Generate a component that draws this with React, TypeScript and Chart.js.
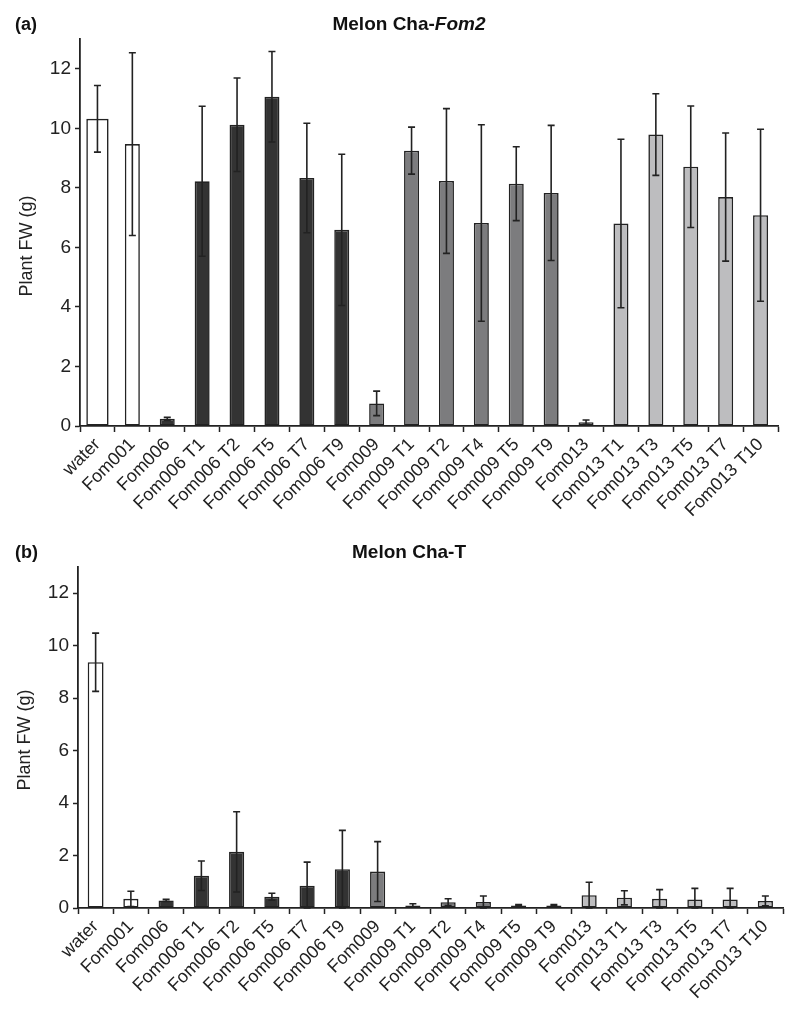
import React, { useEffect, useRef } from 'react';
import { Chart, registerables } from 'chart.js';

Chart.register(...registerables);

// ---------- data ----------
const categories = [
  'water', 'Fom001', 'Fom006', 'Fom006 T1', 'Fom006 T2', 'Fom006 T5', 'Fom006 T7', 'Fom006 T9',
  'Fom009', 'Fom009 T1', 'Fom009 T2', 'Fom009 T4', 'Fom009 T5', 'Fom009 T9',
  'Fom013', 'Fom013 T1', 'Fom013 T3', 'Fom013 T5', 'Fom013 T7', 'Fom013 T10',
];
const groupOf = [0, 0, 1, 1, 1, 1, 1, 1, 2, 2, 2, 2, 2, 2, 3, 3, 3, 3, 3, 3];
const groupColors = ['#ffffff', '#333333', '#7c7c7e', '#bdbdbf'];

const fom2Means = [10.32, 9.47, 0.24, 8.22, 10.12, 11.06, 8.33, 6.59, 0.76, 9.25, 8.23, 6.82, 8.14, 7.83, 0.13, 6.8, 9.79, 8.71, 7.69, 7.08];
const fom2Errors = [1.12, 3.07, 0.05, 2.52, 1.57, 1.52, 1.84, 2.54, 0.41, 0.79, 2.43, 3.3, 1.24, 2.27, 0.07, 2.83, 1.37, 2.04, 2.15, 2.89];

const chaTMeans = [9.37, 0.35, 0.29, 1.23, 2.14, 0.43, 0.85, 1.48, 1.39, 0.1, 0.22, 0.23, 0.1, 0.1, 0.49, 0.39, 0.35, 0.32, 0.32, 0.27];
const chaTErrors = [1.11, 0.29, 0.04, 0.56, 1.53, 0.13, 0.9, 1.48, 1.14, 0.06, 0.13, 0.23, 0.03, 0.03, 0.49, 0.27, 0.35, 0.43, 0.43, 0.19];

const yTicks = [0, 2, 4, 6, 8, 10, 12];
const yMax = 13;
const yTitle = 'Plant FW (g)';

// ---------- styling ----------
const FONT = '"Liberation Sans", Arial, Helvetica, sans-serif';
const INK = '#222222';

type TitlePart = { text: string; italic: boolean };
type PanelSpec = {
  tag: string;
  titleParts: TitlePart[];
  means: number[];
  errors: number[];
  height: number;
  top: number;
  plotTop: number;
  plotBottom: number;
  plotLeft: number;
  plotRight: number;
  waterBarPct: number;
  titleX: number;
  titleY: number;
  yTitleX: number;
  yTitleY: number;
};

const panels: PanelSpec[] = [
  {
    tag: '(a)',
    titleParts: [{ text: 'Melon Cha-', italic: false }, { text: 'Fom2', italic: true }],
    means: fom2Means,
    errors: fom2Errors,
    height: 525,
    top: 0,
    plotTop: 39,
    plotBottom: 426,
    plotLeft: 80,
    plotRight: 778,
    waterBarPct: 0.64,
    titleX: 409,
    titleY: 25,
    yTitleX: 27,
    yTitleY: 246,
  },
  {
    tag: '(b)',
    titleParts: [{ text: 'Melon Cha-T', italic: false }],
    means: chaTMeans,
    errors: chaTErrors,
    height: 501,
    top: 528,
    plotTop: 39,
    plotBottom: 380,
    plotLeft: 78,
    plotRight: 783,
    waterBarPct: 0.45,
    titleX: 409,
    titleY: 25,
    yTitleX: 25,
    yTitleY: 212,
  },
];

function errorBarPlugin(spec: PanelSpec) {
  return {
    id: 'errorBars' + spec.tag,
    afterDatasetsDraw(chart: any) {
      const { ctx } = chart;
      const xs = chart.scales.x;
      const ys = chart.scales.y;
      ctx.save();
      ctx.strokeStyle = INK;
      ctx.lineWidth = 1.6;
      spec.means.forEach((m, i) => {
        const e = spec.errors[i];
        const x = xs.getPixelForValue(i);
        const yTop = ys.getPixelForValue(m + e);
        const yBot = ys.getPixelForValue(Math.max(0, m - e));
        const cap = 3.5;
        ctx.beginPath();
        ctx.moveTo(x, yTop);
        ctx.lineTo(x, yBot);
        ctx.moveTo(x - cap, yTop);
        ctx.lineTo(x + cap, yTop);
        ctx.moveTo(x - cap, yBot);
        ctx.lineTo(x + cap, yBot);
        ctx.stroke();
      });
      ctx.restore();
    },
  };
}

function textPlugin(spec: PanelSpec) {
  return {
    id: 'panelText' + spec.tag,
    afterDraw(chart: any) {
      const ctx = chart.ctx;
      ctx.save();
      ctx.fillStyle = '#111111';
      ctx.textBaseline = 'middle';
      ctx.textAlign = 'left';
      ctx.font = `bold 18px ${FONT}`;
      ctx.fillText(spec.tag, 15, spec.titleY);

      const fonts = spec.titleParts.map((p) => `${p.italic ? 'italic ' : ''}bold 19px ${FONT}`);
      let total = 0;
      const widths = spec.titleParts.map((p, i) => {
        ctx.font = fonts[i];
        const w = ctx.measureText(p.text).width;
        total += w;
        return w;
      });
      let x = spec.titleX - total / 2;
      spec.titleParts.forEach((p, i) => {
        ctx.font = fonts[i];
        ctx.fillText(p.text, x, spec.titleY);
        x += widths[i];
      });

      ctx.translate(spec.yTitleX, spec.yTitleY);
      ctx.rotate(-Math.PI / 2);
      ctx.textAlign = 'center';
      ctx.fillStyle = INK;
      ctx.font = `18px ${FONT}`;
      ctx.fillText(yTitle, 0, 0);
      ctx.restore();
    },
  };
}

function buildConfig(spec: PanelSpec): any {
  const colors = groupOf.map((g) => groupColors[g]);
  const common = {
    backgroundColor: colors,
    borderColor: INK,
    borderWidth: 1.6,
    borderSkipped: false,
    categoryPercentage: 1,
    grouped: false,
  };
  const datasets = [
    { ...common, data: spec.means.map((v, i) => (i === 0 ? v : null)), barPercentage: spec.waterBarPct },
    { ...common, data: spec.means.map((v, i) => (i === 0 ? null : v)), barPercentage: 0.43 },
  ];
  return {
    type: 'bar',
    data: { labels: categories, datasets },
    options: {
      responsive: false,
      animation: false,
      devicePixelRatio: 1,
      layout: {
        padding: { top: spec.plotTop, right: 800 - spec.plotRight, left: 0, bottom: 0 },
      },
      plugins: {
        legend: { display: false },
        title: { display: false },
        tooltip: { enabled: false },
      },
      scales: {
        x: {
          type: 'category',
          offset: true,
          grid: {
            offset: true,
            drawOnChartArea: false,
            drawTicks: true,
            tickLength: 6,
            tickColor: INK,
            tickWidth: 1.5,
          },
          border: { display: true, color: INK, width: 1.8 },
          ticks: {
            autoSkip: false,
            maxRotation: 45,
            minRotation: 45,
            padding: 2,
            color: INK,
            font: { size: 18, family: FONT },
          },
          afterFit(scale: any) {
            scale.height = spec.height - spec.plotBottom;
          },
        },
        y: {
          min: 0,
          max: yMax,
          grid: {
            drawOnChartArea: false,
            drawTicks: true,
            tickLength: 5,
            tickColor: INK,
            tickWidth: 1.5,
          },
          border: { display: true, color: INK, width: 1.8 },
          ticks: {
            padding: 4,
            color: INK,
            font: { size: 19, family: FONT },
          },
          afterBuildTicks(scale: any) {
            scale.ticks = yTicks.map((v) => ({ value: v }));
          },
          afterFit(scale: any) {
            scale.width = spec.plotLeft;
          },
        },
      },
    },
    plugins: [errorBarPlugin(spec), textPlugin(spec)],
  };
}

function Panel({ spec }: { spec: PanelSpec }) {
  const ref = useRef<HTMLCanvasElement | null>(null);
  useEffect(() => {
    if (!ref.current) return;
    const chart = new Chart(ref.current, buildConfig(spec));
    return () => chart.destroy();
  }, [spec]);
  return (
    <canvas
      ref={ref}
      width={800}
      height={spec.height}
      style={{ position: 'absolute', left: 0, top: spec.top, width: 800, height: spec.height }}
    />
  );
}

export default function App() {
  return (
    <div style={{ position: 'absolute', left: 0, top: 0, width: 800, height: 1029, background: '#ffffff' }}>
      {panels.map((p) => (
        <Panel key={p.tag} spec={p} />
      ))}
    </div>
  );
}
